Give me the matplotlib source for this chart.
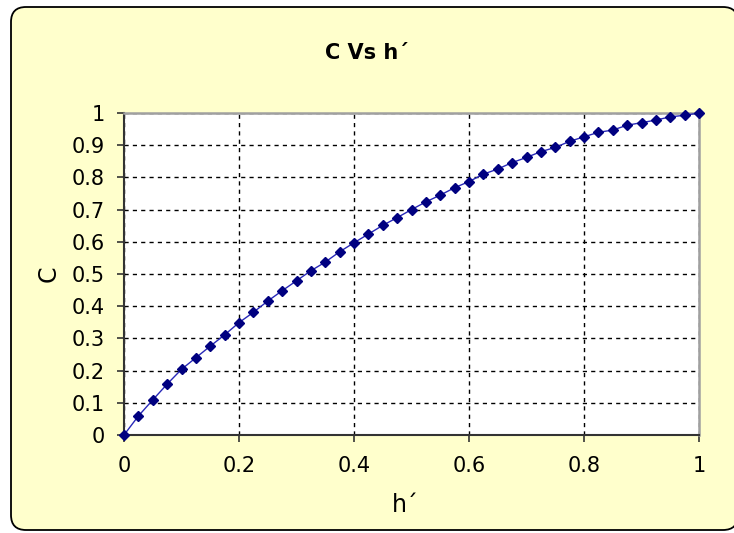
import matplotlib
matplotlib.use("Agg")
import matplotlib.pyplot as plt
from matplotlib.patches import FancyBboxPatch

h_prime = [i * 0.025 for i in range(41)]
C = [0.0, 0.059, 0.109, 0.158, 0.204, 0.240, 0.276, 0.311, 0.349, 0.381,
     0.416, 0.448, 0.479, 0.510, 0.537, 0.569, 0.597, 0.624, 0.651, 0.675,
     0.700, 0.724, 0.745, 0.768, 0.787, 0.810, 0.826, 0.846, 0.862, 0.880,
     0.893, 0.912, 0.926, 0.940, 0.947, 0.962, 0.970, 0.978, 0.988, 0.993, 1.0]
x_ticks = [0, 0.2, 0.4, 0.6, 0.8, 1]
x_labels = ["0", "0.2", "0.4", "0.6", "0.8", "1"]
y_ticks = [0, 0.1, 0.2, 0.3, 0.4, 0.5, 0.6, 0.7, 0.8, 0.9, 1]
y_labels = ["0", "0.1", "0.2", "0.3", "0.4", "0.5", "0.6", "0.7", "0.8", "0.9", "1"]

W, H = 734, 533
fig = plt.figure(figsize=(W / 100, H / 100), dpi=100)
fig.patch.set_facecolor("white")

# outer rounded chart area (in inches so corners stay circular)
bg = FancyBboxPatch((11 / 100, 3 / 100), 727 / 100, 523 / 100,
                    boxstyle="round,pad=0,rounding_size=0.15",
                    transform=fig.dpi_scale_trans, facecolor="#FFFFCC",
                    edgecolor="black", linewidth=1.3, zorder=-10)
fig.patches.append(bg)

ax = fig.add_axes([124 / W, (H - 435) / H, 575 / W, 322 / H])
ax.set_zorder(5)
ax.set_facecolor("white")
ax.plot(h_prime, C, color="#2828B8", linewidth=1.0, zorder=3, clip_on=False)
ax.plot(h_prime, C, linestyle="none", marker="D", markersize=5.5,
        color="#000080", zorder=4, clip_on=False)

ax.set_xlim(0, 1)
ax.set_ylim(0, 1)
ax.set_xticks(x_ticks)
ax.set_xticklabels(x_labels)
ax.set_yticks(y_ticks)
ax.set_yticklabels(y_labels)
ax.grid(True, color="black", linestyle=(0, (3, 3)), linewidth=1.0)
ax.set_axisbelow(True)

for s in ["left", "bottom"]:
    ax.spines[s].set_color("#333333")
    ax.spines[s].set_linewidth(1.5)
for s in ["top", "right"]:
    ax.spines[s].set_color("#A0A0A0")
    ax.spines[s].set_linewidth(1.8)

ax.tick_params(axis="both", direction="out", length=5, width=1.2,
               color="#333333", labelsize=15)
ax.tick_params(axis="x", pad=10)
ax.tick_params(axis="y", pad=9)

fig.text(405 / W, 1 - 512 / H, "h´", ha="center", va="baseline", fontsize=17)
fig.text(49 / W, 1 - 274 / H, "C", ha="center", va="center", rotation=90,
         fontsize=17)

fig.text(367 / W, 1 - 53 / H, "C Vs h´", ha="center", va="center",
         fontsize=15, fontweight="bold")

fig.savefig("out.png", dpi=100)
